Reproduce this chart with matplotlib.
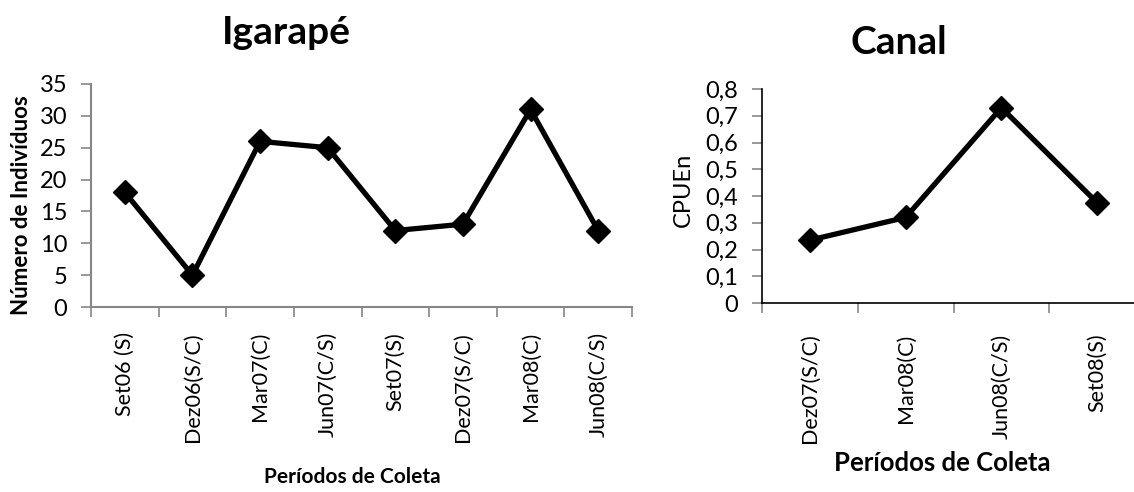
import matplotlib
matplotlib.use("Agg")
import matplotlib.pyplot as plt

# ---- data ----
igarape_periods = ["Set06 (S)", "Dez06(S/C)", "Mar07(C)", "Jun07(C/S)",
                   "Set07(S)", "Dez07(S/C)", "Mar08(C)", "Jun08(C/S)"]
igarape_values = [18, 5, 26, 25, 12, 13, 31, 12]
igarape_yticks = [0, 5, 10, 15, 20, 25, 30, 35]

canal_periods = ["Dez07(S/C)", "Mar08(C)", "Jun08(C/S)", "Set08(S)"]
canal_values = [0.235, 0.32, 0.73, 0.375]
canal_yticks = [0, 0.1, 0.2, 0.3, 0.4, 0.5, 0.6, 0.7, 0.8]
canal_yticklabels = ["0", "0,1", "0,2", "0,3", "0,4", "0,5", "0,6", "0,7", "0,8"]

plt.rcParams['font.family'] = ['Lato', 'DejaVu Sans']

W, H = 1134, 492
fig = plt.figure(figsize=(W / 100, H / 100), dpi=100)

def px_axes(x0, x1, ytop, ybot):
    return fig.add_axes([x0 / W, 1 - ybot / H, (x1 - x0) / W, (ybot - ytop) / H])

gray = "#868686"
tick_fs = 17
xtick_fs = 15.5

# ---- left chart ----
ax1 = px_axes(91, 632, 84, 307)
n1 = len(igarape_values)
ax1.plot(range(n1), igarape_values, color="black", lw=3.8, marker="D",
         markersize=12, solid_joinstyle="round")
ax1.set_xlim(-0.5, n1 - 0.5)
ax1.set_ylim(0, 35)
ax1.set_yticks(igarape_yticks)
ax1.set_yticklabels([str(v) for v in igarape_yticks], fontsize=tick_fs)
ax1.set_xticks(range(n1))
ax1.set_xticklabels(igarape_periods, rotation=90, fontsize=xtick_fs, va="top", ha="center")
ax1.set_xticks([i - 0.5 for i in range(n1 + 1)], minor=True)
ax1.tick_params(axis="x", which="major", length=0, pad=18)
ax1.tick_params(axis="x", which="minor", length=7, color=gray, width=1.2)
ax1.tick_params(axis="y", length=7, color=gray, width=1.2, pad=10)
for s in ["top", "right"]:
    ax1.spines[s].set_visible(False)
for s in ["left", "bottom"]:
    ax1.spines[s].set_color(gray)
    ax1.spines[s].set_linewidth(1.5)

fig.text(286 / W, 1 - 32 / H, "Igarapé", fontsize=28, fontweight="bold",
         ha="center", va="center")
fig.text(22 / W, 1 - 205 / H, "Número de Indivíduos", fontsize=16,
         fontweight="bold", rotation=90, ha="center", va="center")
fig.text(352 / W, 1 - 477 / H, "Períodos de Coleta", fontsize=15,
         fontweight="bold", ha="center", va="center")

# ---- right chart ----
ax2 = px_axes(762, 1145, 89, 303)
n2 = len(canal_values)
ax2.plot(range(n2), canal_values, color="black", lw=3.8, marker="D",
         markersize=12, solid_joinstyle="round")
ax2.set_xlim(-0.5, n2 - 0.5)
ax2.set_ylim(0, 0.8)
ax2.set_yticks(canal_yticks)
ax2.set_yticklabels(canal_yticklabels, fontsize=tick_fs)
ax2.set_xticks(range(n2))
ax2.set_xticklabels(canal_periods, rotation=90, fontsize=xtick_fs, va="top", ha="center")
ax2.set_xticks([i - 0.5 for i in range(n2 + 1)], minor=True)
ax2.tick_params(axis="x", which="major", length=0, pad=22)
ax2.tick_params(axis="x", which="minor", length=7, color=gray, width=1.2)
ax2.tick_params(axis="y", length=7, color=gray, width=1.2, pad=10)
for s in ["top", "right"]:
    ax2.spines[s].set_visible(False)
for s in ["left", "bottom"]:
    ax2.spines[s].set_color("black")
    ax2.spines[s].set_linewidth(1.2)

fig.text(899 / W, 1 - 43 / H, "Canal", fontsize=28, fontweight="bold",
         ha="center", va="center")
fig.text(683 / W, 1 - 190 / H, "CPUEn", fontsize=17, rotation=90,
         ha="center", va="center")
fig.text(942 / W, 1 - 463 / H, "Períodos de Coleta", fontsize=18.5,
         fontweight="bold", ha="center", va="center")

fig.savefig("out.png", dpi=100)
